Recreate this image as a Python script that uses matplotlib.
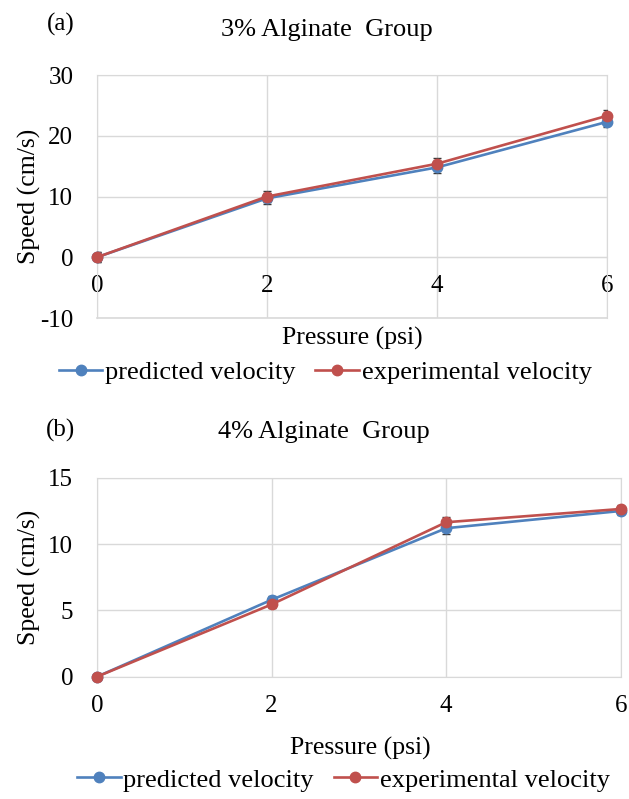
import matplotlib
matplotlib.use("Agg")
import matplotlib.pyplot as plt

# donnees
pression = [0, 2, 4, 6]

pred_3 = [0, 9.7, 14.8, 22.3]
exp_3 = [0, 10.0, 15.4, 23.3]
err_3 = [0.8, 0.9, 1.0, 0.9]

pred_4 = [0, 5.8, 11.2, 12.5]
exp_4 = [0, 5.45, 11.65, 12.65]
err_4 = [0.3, 0.3, 0.4, 0.3]

legende = ["predicted velocity", "experimental velocity"]
bleu = "#4F81BD"
rouge = "#C0504D"
gris = "#d9d9d9"

plt.rcParams['font.family'] = ['Liberation Serif', 'DejaVu Serif']
plt.rcParams['axes.unicode_minus'] = False

fig = plt.figure(figsize=(6.29, 7.99), dpi=100)
ax1 = fig.add_axes([0.154, 0.602, 0.811, 0.304])
ax2 = fig.add_axes([0.154, 0.153, 0.833, 0.249])


def trace(ax, pred, exp, err, ylim, yticks):
    ax.errorbar(pression, pred, yerr=err, fmt="none", ecolor="#3a3a3a",
                elinewidth=0.8, capsize=3, zorder=3)
    ax.errorbar(pression, exp, yerr=err, fmt="none", ecolor="#3a3a3a",
                elinewidth=0.8, capsize=3, zorder=3)
    ax.plot(pression, pred, color=bleu, marker="o", markersize=7.5,
            linewidth=1.9, label=legende[0], zorder=4, clip_on=False)
    ax.plot(pression, exp, color=rouge, marker="o", markersize=7.5,
            linewidth=1.9, label=legende[1], zorder=5, clip_on=False)
    ax.set_xlim(0, 6)
    ax.set_ylim(*ylim)
    ax.set_xticks([0, 2, 4, 6])
    ax.set_yticks(yticks)
    ax.grid(True, color=gris, linewidth=1)
    ax.set_axisbelow(True)
    for s in ax.spines.values():
        s.set_color(gris)
    ax.tick_params(length=0, labelsize=18)
    ax.tick_params(axis="y", pad=17)
    ax.tick_params(axis="x", pad=13)
    ax.set_xlabel("Pressure (psi)", fontsize=18.5)
    ax.set_ylabel("Speed (cm/s)", fontsize=18.5)


# (a) 3 %
trace(ax1, pred_3, exp_3, err_3, (-10, 30), [-10, 0, 10, 20, 30])
ax1.spines["bottom"].set_position(("data", 0))
# bordure du bas de la zone de trace
ax1.axhline(-10, color=gris, linewidth=1.2, clip_on=False, zorder=1)
ax1.xaxis.set_label_coords(0.5, -0.035)
ax1.yaxis.set_label_coords(-0.11, 0.5)
ax1.legend(loc="center", bbox_to_anchor=(0.517, 0.534), bbox_transform=fig.transFigure,
           ncol=2, frameon=False, fontsize=19, handlelength=1.65, handletextpad=0.1,
           columnspacing=0.75, borderaxespad=0)
fig.text(0.075, 0.969, "(a)", fontsize=18, va="center", ha="left")
fig.text(0.52, 0.962, "3% Alginate  Group", fontsize=19, va="center", ha="center")

# (b) 4 %
trace(ax2, pred_4, exp_4, err_4, (0, 15), [0, 5, 10, 15])
ax2.xaxis.set_label_coords(0.502, -0.3)
ax2.yaxis.set_label_coords(-0.107, 0.5)
ax2.legend(loc="center", bbox_to_anchor=(0.546, 0.024), bbox_transform=fig.transFigure,
           ncol=2, frameon=False, fontsize=19, handlelength=1.65, handletextpad=0.1,
           columnspacing=0.75, borderaxespad=0)
fig.text(0.073, 0.461, "(b)", fontsize=18, va="center", ha="left")
fig.text(0.515, 0.459, "4% Alginate  Group", fontsize=19, va="center", ha="center")

plt.savefig("out.png", dpi=100)
